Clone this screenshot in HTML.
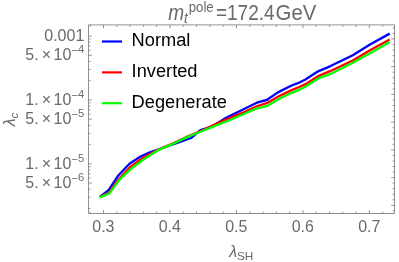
<!DOCTYPE html>
<html><head><meta charset="utf-8"><title>plot</title>
<style>
html,body{margin:0;padding:0;background:#fff;}
body{width:399px;height:262px;overflow:hidden;}
svg{display:block;font-family:"Liberation Sans",sans-serif;will-change:transform;}
</style></head><body>
<svg width="399" height="262" viewBox="0 0 399 262">
<rect width="399" height="262" fill="#fff"/>
<rect x="88.6" y="24.9" width="305.9" height="188.6" fill="none" stroke="#787878" stroke-width="0.8"/>
<path d="M90.20 213.5v-1.9M90.20 24.9v1.9 M103.50 213.5v-3.3M103.50 24.9v3.3 M116.80 213.5v-1.9M116.80 24.9v1.9 M130.09 213.5v-1.9M130.09 24.9v1.9 M143.39 213.5v-1.9M143.39 24.9v1.9 M156.68 213.5v-1.9M156.68 24.9v1.9 M169.98 213.5v-3.3M169.98 24.9v3.3 M183.28 213.5v-1.9M183.28 24.9v1.9 M196.57 213.5v-1.9M196.57 24.9v1.9 M209.87 213.5v-1.9M209.87 24.9v1.9 M223.16 213.5v-1.9M223.16 24.9v1.9 M236.46 213.5v-3.3M236.46 24.9v3.3 M249.76 213.5v-1.9M249.76 24.9v1.9 M263.05 213.5v-1.9M263.05 24.9v1.9 M276.35 213.5v-1.9M276.35 24.9v1.9 M289.64 213.5v-1.9M289.64 24.9v1.9 M302.94 213.5v-3.3M302.94 24.9v3.3 M316.24 213.5v-1.9M316.24 24.9v1.9 M329.53 213.5v-1.9M329.53 24.9v1.9 M342.83 213.5v-1.9M342.83 24.9v1.9 M356.12 213.5v-1.9M356.12 24.9v1.9 M369.42 213.5v-3.3M369.42 24.9v3.3 M382.72 213.5v-1.9M382.72 24.9v1.9 M88.6 208.43h1.9 M88.6 197.19h1.9 M88.6 189.21h1.9 M88.6 183.02h3.3 M88.6 177.97h1.9 M88.6 173.69h1.9 M88.6 169.99h1.9 M88.6 166.72h1.9 M88.6 163.80h3.3 M88.6 144.58h1.9 M88.6 133.34h1.9 M88.6 125.36h1.9 M88.6 119.17h3.3 M88.6 114.12h1.9 M88.6 109.84h1.9 M88.6 106.14h1.9 M88.6 102.87h1.9 M88.6 99.95h3.3 M88.6 80.73h1.9 M88.6 69.49h1.9 M88.6 61.51h1.9 M88.6 55.32h3.3 M88.6 50.27h1.9 M88.6 45.99h1.9 M88.6 42.29h1.9 M88.6 39.02h1.9 M88.6 36.10h3.3 M394.5 210.88h-1.9 M394.5 205.34h-3.3 M394.5 199.79h-1.9 M394.5 194.24h-1.9 M394.5 188.70h-1.9 M394.5 183.15h-1.9 M394.5 177.61h-3.3 M394.5 172.06h-1.9 M394.5 166.51h-1.9 M394.5 160.97h-1.9 M394.5 155.42h-1.9 M394.5 149.88h-3.3 M394.5 144.33h-1.9 M394.5 138.78h-1.9 M394.5 133.24h-1.9 M394.5 127.69h-1.9 M394.5 122.15h-3.3 M394.5 116.60h-1.9 M394.5 111.06h-1.9 M394.5 105.51h-1.9 M394.5 99.96h-1.9 M394.5 94.42h-3.3 M394.5 88.87h-1.9 M394.5 83.33h-1.9 M394.5 77.78h-1.9 M394.5 72.23h-1.9 M394.5 66.69h-3.3 M394.5 61.14h-1.9 M394.5 55.60h-1.9 M394.5 50.05h-1.9 M394.5 44.50h-1.9 M394.5 38.96h-3.3 M394.5 33.41h-1.9 M394.5 27.87h-1.9" stroke="#787878" stroke-width="0.8" fill="none"/>
<polyline points="99.9,196.9 108.8,189.9 118.5,175.2 129.5,163.8 140.5,156.5 150.5,152.0 159.6,149.0 170.0,145.5 180.0,142.0 191.0,138.0 200.5,130.2 212.0,126.6 225.0,118.4 240.0,111.0 256.8,102.7 266.7,100.0 277.9,92.4 291.6,85.5 299.2,82.6 305.0,79.8 318.1,71.3 330.0,66.3 352.8,55.2 370.0,44.5 389.7,33.6" fill="none" stroke="#0000ff" stroke-width="2.35" stroke-linejoin="round" stroke-linecap="butt"/>
<polyline points="99.9,197.1 109.1,192.5 119.1,178.7 131.0,166.4 143.0,157.8 158.0,149.9 170.0,144.7 186.0,137.2 200.0,131.5 215.0,124.4 230.0,117.9 245.0,111.9 256.0,106.5 266.7,103.2 277.9,96.7 291.6,90.1 299.2,87.0 305.0,84.4 318.1,76.2 330.0,71.2 352.8,60.5 370.0,50.3 389.7,39.5" fill="none" stroke="#ff0000" stroke-width="2.35" stroke-linejoin="round" stroke-linecap="butt"/>
<polyline points="99.9,197.4 109.4,193.4 119.5,179.6 131.6,168.3 143.9,159.3 158.0,150.2 170.0,145.2 186.0,137.6 200.0,132.0 215.0,125.9 230.0,120.0 245.0,113.5 256.0,108.6 266.7,106.2 277.9,99.5 291.6,92.8 299.2,89.8 305.0,87.0 318.1,78.4 330.0,74.2 352.8,62.7 370.0,53.2 389.7,41.9" fill="none" stroke="#00ff00" stroke-width="2.35" stroke-linejoin="round" stroke-linecap="butt"/>
<line x1="102" x2="122" y1="41.5" y2="41.5" stroke="#0000ff" stroke-width="2.2"/>
<text transform="translate(131.6,46.4) scale(0.97,1)" font-size="18.8" fill="#000">Normal</text>
<line x1="102" x2="122" y1="72.4" y2="72.4" stroke="#ff0000" stroke-width="2.2"/>
<text transform="translate(131.6,77.2) scale(0.97,1)" font-size="18.8" fill="#000">Inverted</text>
<line x1="102" x2="122" y1="103.2" y2="103.2" stroke="#00ff00" stroke-width="2.2"/>
<text transform="translate(131.6,108.1) scale(0.97,1)" font-size="18.8" fill="#000">Degenerate</text>
<text transform="translate(103.35,231.90) scale(0.92,1)" font-size="17.4" fill="#6a6a6a" text-anchor="middle" >0.3</text>
<text transform="translate(169.83,231.90) scale(0.92,1)" font-size="17.4" fill="#6a6a6a" text-anchor="middle" >0.4</text>
<text transform="translate(236.31,231.90) scale(0.92,1)" font-size="17.4" fill="#6a6a6a" text-anchor="middle" >0.5</text>
<text transform="translate(302.79,231.90) scale(0.92,1)" font-size="17.4" fill="#6a6a6a" text-anchor="middle" >0.6</text>
<text transform="translate(369.27,231.90) scale(0.92,1)" font-size="17.4" fill="#6a6a6a" text-anchor="middle" >0.7</text>
<text transform="translate(84.30,40.95) scale(0.92,1)" font-size="17.4" fill="#6a6a6a" text-anchor="end" >0.001</text>
<text transform="translate(71.40,60.17) scale(0.92,1)" font-size="17.4" fill="#6a6a6a" text-anchor="end" >5.<tspan dx="3.3">×</tspan><tspan dx="2.8">10</tspan></text>
<text transform="translate(84.30,53.37) scale(1.0,1)" font-size="11.2" fill="#6a6a6a" text-anchor="end" ><tspan dy="1.0">−</tspan><tspan dy="-1.0">4</tspan></text>
<text transform="translate(71.40,104.80) scale(0.92,1)" font-size="17.4" fill="#6a6a6a" text-anchor="end" >1.<tspan dx="3.3">×</tspan><tspan dx="2.8">10</tspan></text>
<text transform="translate(84.30,98.00) scale(1.0,1)" font-size="11.2" fill="#6a6a6a" text-anchor="end" ><tspan dy="1.0">−</tspan><tspan dy="-1.0">4</tspan></text>
<text transform="translate(71.40,124.02) scale(0.92,1)" font-size="17.4" fill="#6a6a6a" text-anchor="end" >5.<tspan dx="3.3">×</tspan><tspan dx="2.8">10</tspan></text>
<text transform="translate(84.30,117.22) scale(1.0,1)" font-size="11.2" fill="#6a6a6a" text-anchor="end" ><tspan dy="1.0">−</tspan><tspan dy="-1.0">5</tspan></text>
<text transform="translate(71.40,168.65) scale(0.92,1)" font-size="17.4" fill="#6a6a6a" text-anchor="end" >1.<tspan dx="3.3">×</tspan><tspan dx="2.8">10</tspan></text>
<text transform="translate(84.30,161.85) scale(1.0,1)" font-size="11.2" fill="#6a6a6a" text-anchor="end" ><tspan dy="1.0">−</tspan><tspan dy="-1.0">5</tspan></text>
<text transform="translate(71.40,187.87) scale(0.92,1)" font-size="17.4" fill="#6a6a6a" text-anchor="end" >5.<tspan dx="3.3">×</tspan><tspan dx="2.8">10</tspan></text>
<text transform="translate(84.30,181.07) scale(1.0,1)" font-size="11.2" fill="#6a6a6a" text-anchor="end" ><tspan dy="1.0">−</tspan><tspan dy="-1.0">6</tspan></text>
<text transform="translate(229.20,256.80) scale(0.92,1)" font-size="17.4" fill="#6a6a6a" text-anchor="start" ><tspan font-style="italic">λ</tspan></text>
<text transform="translate(237.00,259.80) scale(1.0,1)" font-size="11.8" fill="#6a6a6a" text-anchor="start" >SH</text>
<text transform="translate(14.7,126.3) rotate(-90) scale(0.92,1)" font-size="17.4" fill="#6a6a6a" font-style="italic">λ</text>
<text transform="translate(17.6,118.4) rotate(-90)" font-size="11.8" fill="#6a6a6a" font-style="italic">c</text>
<text transform="translate(168.20,19.80) scale(0.885,1)" font-size="21.5" fill="#6a6a6a" text-anchor="start" ><tspan font-style="italic">m</tspan><tspan font-style="italic" font-size="15" dy="3.2">t</tspan><tspan font-size="15" dx="1" dy="-11.2">pole</tspan></text>
<text transform="translate(215.90,19.80) scale(0.885,1)" font-size="21.5" fill="#6a6a6a" text-anchor="start" >=172.4</text>
<text transform="translate(275.60,19.80) scale(0.945,1)" font-size="21.5" fill="#6a6a6a" text-anchor="start" >GeV</text>
</svg>
</body></html>
